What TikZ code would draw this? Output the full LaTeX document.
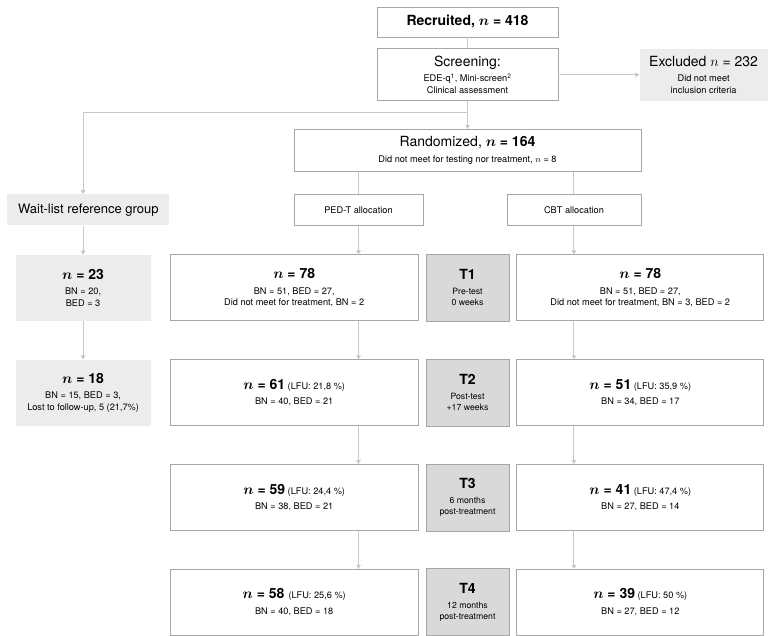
\documentclass[tikz,border=0pt]{standalone}
\usepackage{fontspec}
\setmainfont{TeX Gyre Heros}
\usetikzlibrary{positioning,arrows.meta}

\definecolor{boxgray}{HTML}{A6A6A6}
\definecolor{linegray}{HTML}{C8C8C8}
\definecolor{lightfill}{HTML}{ECECEC}
\definecolor{timefill}{HTML}{D9D9D9}

\newcommand{\bigtxt}{\fontsize{14}{17}\selectfont}
\newcommand{\waittxt}{\fontsize{13}{16}\selectfont}
\newcommand{\smalltxt}{\fontsize{9.2}{11.5}\selectfont}
\newcommand{\timetxt}{\fontsize{8.7}{11}\selectfont}
\newcommand{\nb}{\mbox{\boldmath$n$}}

\tikzset{
  box/.style={draw=boxgray, fill=white, line width=0.8pt, align=center, inner sep=2pt, font=\smalltxt},
  greybox/.style={fill=lightfill, align=center, inner sep=2pt, font=\smalltxt},
  timebox/.style={draw=boxgray, fill=timefill, line width=0.8pt, align=center, inner sep=2pt,
    font=\timetxt, minimum width=83pt, minimum height=67pt},
  rowbox/.style={box, minimum height=66pt},
  conn/.style={draw=linegray, line width=1pt}
}

\begin{document}
\begin{tikzpicture}[>={Triangle[width=4.5pt,length=4pt]}]
        \useasboundingbox (-467.5pt,22pt) rectangle (306.5pt,-614pt);
        % Recruitment and screening
        \node[box, minimum width=181pt, minimum height=30pt] (recruited) at (0,0) {\bigtxt\textbf{Recruited, \nb{} = 418}};
        \node[box, minimum width=181pt, minimum height=52pt] (screening) [below=11pt of recruited]
            {{\bigtxt Screening:}\\[4pt]EDE-q\textsuperscript{1}, Mini-screen\textsuperscript{2}\\Clinical assessment};
        \node[greybox, minimum width=128pt, minimum height=52pt] (excluded) [right=81pt of screening]
            {{\bigtxt Excluded $n$ = 232}\\[4pt]Did not meet\\inclusion criteria};
        \node[box, minimum width=347pt, minimum height=42pt] (random) [below=28pt of screening]
            {{\bigtxt Randomized, \textbf{\nb{} = 164}}\\[4pt]Did not meet for testing nor treatment, $n$ = 8};
        \node[box, minimum width=129pt, minimum height=31pt] (pedalloc) [below right=22pt and 0pt of random.south west] {PED-T allocation};
        \node[box, minimum width=134pt, minimum height=31pt] (cbtalloc) [below left=22pt and 0pt of random.south east] {CBT allocation};
        \node[greybox, minimum width=162pt, minimum height=31pt] (wait) [left=124pt of pedalloc] {\waittxt Wait-list reference group};

        % Time points
        \node[timebox] (t1) [below=82pt of random] {{\bigtxt\textbf{T1}}\\[4pt]Pre-test\\0 weeks};
        \node[timebox] (t2) [below=37pt of t1] {{\bigtxt\textbf{T2}}\\[4pt]Post-test\\+17 weeks};
        \node[timebox] (t3) [below=37pt of t2] {{\bigtxt\textbf{T3}}\\[4pt]6 months\\post-treatment};
        \node[timebox] (t4) [below=37pt of t3] {{\bigtxt\textbf{T4}}\\[4pt]12 months\\post-treatment};

        % PED-T arm
        \node[rowbox, minimum width=248pt] (ped1) [left=7pt of t1]
            {{\bigtxt\textbf{\nb{} = 78}}\\[4pt]BN = 51, BED = 27,\\Did not meet for treatment, BN = 2};
        \node[rowbox, minimum width=248pt] (ped2) [left=7pt of t2]
            {{\bigtxt\textbf{\nb{} = 61}} (LFU: 21,8 \%)\\[4pt]BN = 40, BED = 21};
        \node[rowbox, minimum width=248pt] (ped3) [left=7pt of t3]
            {{\bigtxt\textbf{\nb{} = 59}} (LFU: 24,4 \%)\\[4pt]BN = 38, BED = 21};
        \node[rowbox, minimum width=248pt] (ped4) [left=7pt of t4]
            {{\bigtxt\textbf{\nb{} = 58}}\, (LFU: 25,6 \%)\\[4pt]BN = 40, BED = 18};

        % CBT arm
        \node[rowbox, minimum width=247pt] (cbt1) [right=7pt of t1]
            {{\bigtxt\textbf{\nb{} = 78}}\\[4pt]BN = 51, BED = 27,\\Did not meet for treatment, BN = 3, BED = 2};
        \node[rowbox, minimum width=247pt] (cbt2) [right=7pt of t2]
            {{\bigtxt\textbf{\nb{} = 51}} (LFU: 35,9 \%)\\[4pt]BN = 34, BED = 17};
        \node[rowbox, minimum width=247pt] (cbt3) [right=7pt of t3]
            {{\bigtxt\textbf{\nb{} = 41}} (LFU: 47,4 \%)\\[4pt]BN = 27, BED = 14};
        \node[rowbox, minimum width=247pt] (cbt4) [right=7pt of t4]
            {{\bigtxt\textbf{\nb{} = 39}} (LFU: 50 \%)\\[4pt]BN = 27, BED = 12};

        % Wait-list group
        \node[greybox, minimum width=135pt, minimum height=66pt] (wl1) [left=19pt of ped1]
            {{\bigtxt\textbf{\nb{} = 23}}\\[4pt]BN = 20,\\BED = 3};
        \node[greybox, minimum width=135pt, minimum height=66pt] (wl2) [left=19pt of ped2]
            {{\bigtxt\textbf{\nb{} = 18}}\\[4pt]BN = 15, BED = 3,\\Lost to follow-up, 5 (21,7\%)};

        % Connectors
        \coordinate[below=11pt of screening.south] (split);
        \draw[conn] (recruited) -- (screening);
        \draw[conn,->] (screening) -- (excluded);
        \draw[conn,->] (screening) -- (random);
        \draw[conn,->] (split) -| (wait.north -| wl1);
        \draw[conn] (random.south -| pedalloc) -- (pedalloc);
        \draw[conn] (random.south -| cbtalloc) -- (cbtalloc);

        \draw[conn,->] (wait.south -| wl1) -- (wl1);
        \draw[conn,->] (wl1) -- (wl2);

        \draw[conn,->] (pedalloc) -- (ped1.north -| pedalloc);
        \draw[conn,->] (ped1.south -| pedalloc) -- (ped2.north -| pedalloc);
        \draw[conn,->] (ped2.south -| pedalloc) -- (ped3.north -| pedalloc);
        \draw[conn,->] (ped3.south -| pedalloc) -- (ped4.north -| pedalloc);

        \draw[conn,->] (cbtalloc) -- (cbt1.north -| cbtalloc);
        \draw[conn,->] (cbt1.south -| cbtalloc) -- (cbt2.north -| cbtalloc);
        \draw[conn,->] (cbt2.south -| cbtalloc) -- (cbt3.north -| cbtalloc);
        \draw[conn,->] (cbt3.south -| cbtalloc) -- (cbt4.north -| cbtalloc);
    \end{tikzpicture}
\end{document}
